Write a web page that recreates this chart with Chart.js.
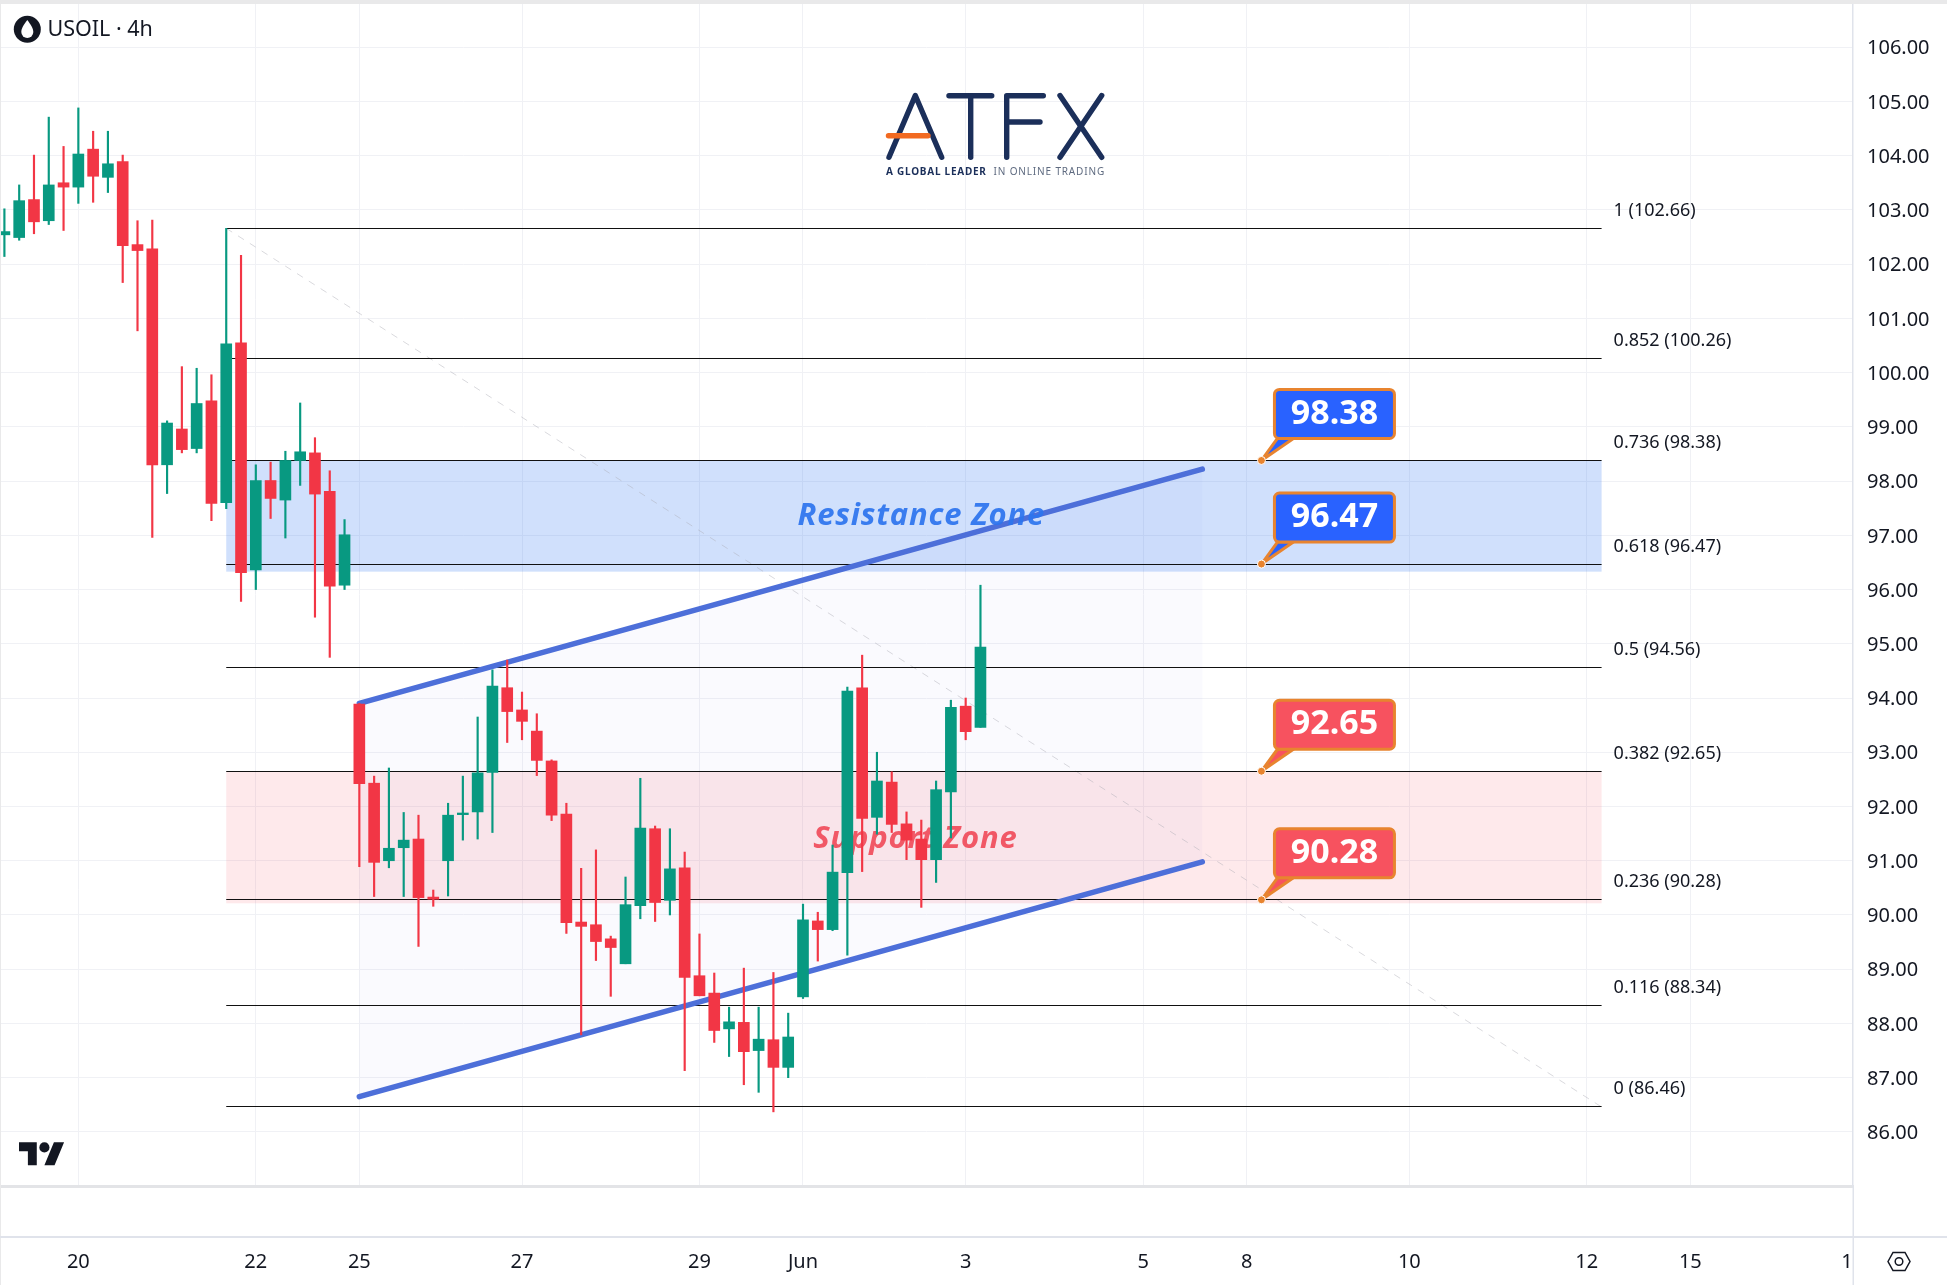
<!DOCTYPE html>
<html>
<head>
<meta charset="utf-8">
<title>USOIL 4h</title>
<style>
  html, body { margin: 0; padding: 0; background: #fff; }
  #wrap { width: 1947px; height: 1285px; }
</style>
<script src="https://cdn.jsdelivr.net/npm/chart.js@4"></script>
</head>
<body>
<div id="wrap"><canvas id="chart" width="1947" height="1285"></canvas></div>
<script>
// USOIL 4h candles, oldest first
const opens  = [102.54,102.49,103.19,102.80,103.50,103.42,104.12,103.60,103.89,102.36,102.28,98.30,98.96,98.60,99.48,97.60,100.55,96.36,98.01,97.65,98.38,98.52,97.81,96.08,
                93.89,92.43,91.00,91.24,91.40,90.33,91.00,91.85,91.90,92.63,94.19,93.78,93.39,92.84,91.86,89.87,89.82,89.56,89.10,90.17,91.59,90.27,90.87,88.88,88.56,87.90,88.02,87.50,87.70,87.19,
                88.49,89.89,89.73,90.78,94.19,91.80,92.45,91.68,91.40,91.02,92.27,93.85,93.46];
const highs  = [103.02,103.46,104.01,104.71,104.17,104.88,104.45,104.45,104.01,102.80,102.81,99.11,100.11,100.08,99.96,102.66,102.16,98.30,98.35,98.55,99.44,98.80,98.19,97.29,
                93.90,92.56,92.71,91.89,91.84,90.46,92.06,92.56,93.65,94.52,94.70,94.11,93.71,92.86,92.06,90.86,91.20,89.61,90.70,92.52,91.64,91.59,91.16,89.65,88.93,88.30,89.02,88.30,88.94,88.19,
                90.20,90.05,91.29,94.20,94.79,93.00,92.64,91.90,91.75,92.47,93.96,94.00,96.08];
const lows   = [102.14,102.44,102.56,102.73,102.62,103.12,103.14,103.32,101.66,100.77,96.96,97.77,98.52,98.52,97.27,97.49,95.78,96.00,97.31,96.95,97.92,95.49,94.75,96.00,
                90.89,90.34,90.87,90.34,89.42,90.16,90.35,91.38,91.40,91.52,93.18,93.23,92.57,91.74,89.66,87.79,89.16,88.50,89.10,89.93,89.88,90.00,87.13,88.51,87.65,87.39,86.87,86.73,86.37,87.00,
                88.46,89.15,89.71,89.26,90.80,91.49,91.52,91.02,90.14,90.60,91.42,93.23,93.46];
const closes = [102.60,103.17,102.78,103.46,103.42,104.03,103.62,103.85,102.34,102.25,98.30,99.07,98.58,99.43,97.59,100.53,96.31,98.01,97.68,98.38,98.54,97.76,96.06,97.01,
                92.42,90.97,91.23,91.38,90.32,90.29,91.84,91.88,92.62,94.22,93.75,93.57,92.85,91.84,89.86,89.79,89.51,89.40,90.19,91.60,90.23,90.85,88.85,88.51,87.87,88.03,87.48,87.71,87.19,87.75,
                89.91,89.73,90.79,94.13,91.78,92.47,91.67,91.38,91.02,92.31,93.83,93.38,94.94];

// Price and time axes
const yTicks = [86,87,88,89,90,91,92,93,94,95,96,97,98,99,100,101,102,103,104,105,106];
const xTicks  = [5,17,24,35,47,54,65,77,84,95,107,114,124.6];
const xLabels = ['20','22','25','27','29','Jun','3','5','8','10','12','15','1'];

// Fibonacci retracement levels and where they run on the time axis
const fibRatios = ['1','0.852','0.736','0.618','0.5','0.382','0.236','0.116','0'];
const fibPrices = [102.66,100.26,98.38,96.47,94.56,92.65,90.28,88.34,86.46];
const fibSpan = [15,108];

// Ascending channel: [bar index, price]
const channelUpper = [[24,93.90],[81,98.22]];
const channelLower = [[24,86.65],[81,90.98]];

// Shaded zones: [top price, bottom price]
const resistanceZone = [98.38,96.33];
const supportZone = [92.65,90.215];

// Price callouts
const blueCallouts = [98.38,96.47];
const redCallouts = [92.65,90.28];
const calloutBar = 85;

const UP = '#089981', DOWN = '#f23645', INK = '#131722', AXIS_LINE = '#e0e3eb', GRID = '#f0f1f5';
const UI_FONT = '"Noto Sans"';

const barColor = closes.map((c, i) => c >= opens[i] ? UP : DOWN);
const wickData = lows.map((l, i) => ({x: i, y: [l, highs[i]]}));
const bodyData = opens.map((o, i) => ({x: i, y: [o, closes[i]]}));

function fitLetterSpacedText(ctx, text, x, y, spacing) {
  ctx.letterSpacing = spacing + 'px';
  ctx.fillText(text, x, y);
  ctx.letterSpacing = '0px';
}

function roundedBox(ctx, x, y, w, h, r) {
  ctx.beginPath();
  ctx.roundRect(x, y, w, h, r);
}

function drawCallout(ctx, chart, price, fill, text) {
  const px = chart.scales.x.getPixelForValue(calloutBar);
  const py = chart.scales.y.getPixelForValue(price);
  const left = px + 13, top = py - 71, w = 120, h = 49;
  ctx.strokeStyle = '#e8842f';
  ctx.lineWidth = 3;
  ctx.fillStyle = fill;
  ctx.lineJoin = 'round';
  ctx.beginPath();
  ctx.moveTo(left + 3, top + h);
  ctx.lineTo(px, py);
  ctx.lineTo(left + 19, top + h);
  ctx.closePath();
  ctx.fill();
  ctx.stroke();
  roundedBox(ctx, left, top, w, h, 5);
  ctx.fill();
  ctx.stroke();
  ctx.fillStyle = '#fff';
  ctx.font = '700 34px ' + UI_FONT;
  ctx.textAlign = 'center';
  ctx.textBaseline = 'middle';
  ctx.fillText(text, left + w / 2, top + h / 2);
  ctx.beginPath();
  ctx.arc(px, py, 4, 0, Math.PI * 2);
  ctx.fillStyle = '#e8842f';
  ctx.fill();
  ctx.lineWidth = 1;
  ctx.strokeStyle = '#fff';
  ctx.stroke();
}

// Drawing tools that sit behind the candles
const drawingTools = {
  id: 'drawingTools',
  beforeDatasetsDraw(chart) {
    const {ctx, scales: {x, y}} = chart;
    const X = x.getPixelForValue.bind(x), Y = y.getPixelForValue.bind(y);
    ctx.save();

    // channel interior
    ctx.fillStyle = 'rgba(110,110,235,0.032)';
    ctx.beginPath();
    ctx.moveTo(X(channelUpper[0][0]), Y(channelUpper[0][1]));
    ctx.lineTo(X(channelUpper[1][0]), Y(channelUpper[1][1]));
    ctx.lineTo(X(channelLower[1][0]), Y(channelLower[1][1]));
    ctx.lineTo(X(channelLower[0][0]), Y(channelLower[0][1]));
    ctx.closePath();
    ctx.fill();

    // resistance and support bands
    const zoneLeft = X(fibSpan[0]), zoneRight = X(fibSpan[1]);
    ctx.fillStyle = 'rgba(33,110,240,0.21)';
    ctx.fillRect(zoneLeft, Y(resistanceZone[0]), zoneRight - zoneLeft, Y(resistanceZone[1]) - Y(resistanceZone[0]));
    ctx.fillStyle = 'rgba(242,54,69,0.11)';
    ctx.fillRect(zoneLeft, Y(supportZone[0]), zoneRight - zoneLeft, Y(supportZone[1]) - Y(supportZone[0]));

    // fib diagonal
    ctx.strokeStyle = 'rgba(170,170,180,0.45)';
    ctx.lineWidth = 1;
    ctx.setLineDash([7, 7]);
    ctx.beginPath();
    ctx.moveTo(X(fibSpan[0]), Y(fibPrices[0]));
    ctx.lineTo(X(fibSpan[1]), Y(fibPrices[fibPrices.length - 1]));
    ctx.stroke();
    ctx.setLineDash([]);

    // fib levels with their labels
    ctx.font = '18px ' + UI_FONT;
    ctx.textAlign = 'left';
    ctx.textBaseline = 'middle';
    fibPrices.forEach((p, i) => {
      const py = Math.floor(Y(p)) + 0.5;
      ctx.strokeStyle = '#111';
      ctx.lineWidth = 1.2;
      ctx.beginPath();
      ctx.moveTo(X(fibSpan[0]), py);
      ctx.lineTo(X(fibSpan[1]), py);
      ctx.stroke();
      ctx.fillStyle = INK;
      ctx.fillText(fibRatios[i] + ' (' + p.toFixed(2) + ')', X(fibSpan[1]) + 12, py - 18);
    });

    // channel edges
    ctx.strokeStyle = '#4d6fd9';
    ctx.lineWidth = 5.5;
    ctx.lineCap = 'round';
    [channelUpper, channelLower].forEach(line => {
      ctx.beginPath();
      ctx.moveTo(X(line[0][0]), Y(line[0][1]));
      ctx.lineTo(X(line[1][0]), Y(line[1][1]));
      ctx.stroke();
    });
    ctx.lineCap = 'butt';

    // zone captions
    ctx.textAlign = 'center';
    ctx.font = 'italic 700 31px "Open Sans"';
    ctx.fillStyle = 'rgba(44,116,238,0.92)';
    fitLetterSpacedText(ctx, 'Resistance Zone', X(62), Y(97.35), 0.8);
    ctx.fillStyle = 'rgba(240,80,95,0.95)';
    fitLetterSpacedText(ctx, 'Support Zone', X(61.6), Y(91.4), 0.8);

    blueCallouts.forEach(p => drawCallout(ctx, chart, p, '#2962ff', p.toFixed(2)));
    redCallouts.forEach(p => drawCallout(ctx, chart, p, '#f7525f', p.toFixed(2)));
    ctx.restore();
  }
};

function drawBrandMark(ctx) {
  ctx.save();
  ctx.lineCap = 'round';
  ctx.lineJoin = 'round';
  ctx.lineWidth = 5.4;
  ctx.strokeStyle = '#1b2f5a';
  const strokes = [
    [[889,157.3],[915.3,95.5],[941.7,157.3]],
    [[949,95.7],[991.7,95.7]], [[970.7,95.7],[970.7,157.3]],
    [[1006.7,157.3],[1006.7,95.7],[1043.3,95.7]], [[1006.7,122],[1040,122]],
    [[1060,95.5],[1101.7,157.3]], [[1101.7,95.5],[1060,157.3]]
  ];
  strokes.forEach(s => {
    ctx.beginPath();
    s.forEach((p, i) => i ? ctx.lineTo(p[0], p[1]) : ctx.moveTo(p[0], p[1]));
    ctx.stroke();
  });
  ctx.strokeStyle = '#f26a21';
  ctx.beginPath();
  ctx.moveTo(888.5, 135.7);
  ctx.lineTo(928, 135.7);
  ctx.stroke();
  ctx.textAlign = 'left';
  ctx.textBaseline = 'middle';
  ctx.font = '700 10px ' + UI_FONT;
  ctx.fillStyle = '#1b2f5a';
  fitLetterSpacedText(ctx, 'A GLOBAL LEADER', 886, 172.5, 0.75);
  ctx.font = '400 10px ' + UI_FONT;
  ctx.fillStyle = '#5f6b80';
  fitLetterSpacedText(ctx, 'IN ONLINE TRADING', 993.5, 172.5, 0.85);
  ctx.restore();
}

function drawChrome(chart) {
  const {ctx, chartArea: a, width, height} = chart;
  ctx.save();
  // frame around the panes
  ctx.fillStyle = '#e9e9ea';
  ctx.fillRect(0, 0, width, 4);
  ctx.fillRect(0, 0, 1, height);
  ctx.fillStyle = AXIS_LINE;
  ctx.fillRect(0, 1236, width, 2);
  ctx.fillRect(a.right - 0.5, 1186, 1.5, height - 1186);

  // symbol badge and title
  ctx.fillStyle = INK;
  ctx.beginPath();
  ctx.arc(27.3, 29.3, 13.5, 0, Math.PI * 2);
  ctx.fill();
  ctx.fillStyle = '#fff';
  ctx.beginPath();
  ctx.moveTo(27.3, 20);
  ctx.bezierCurveTo(31, 25, 33.3, 28.5, 33.3, 32);
  ctx.arc(27.3, 32, 6, 0, Math.PI);
  ctx.bezierCurveTo(21.3, 28.5, 23.6, 25, 27.3, 20);
  ctx.fill();
  ctx.fillStyle = INK;
  ctx.font = '400 21.5px ' + UI_FONT;
  ctx.textAlign = 'left';
  ctx.textBaseline = 'middle';
  ctx.fillText('USOIL · 4h', 47.5, 29.5);

  // TradingView mark
  ctx.save();
  ctx.translate(19, 1142.3 - 4 * 1.27);
  ctx.scale(1.27, 1.27);
  ctx.fill(new Path2D('M14 22H7V11H0V4h14v18zM28 22h-8l7.5-18h8L28 22z'));
  ctx.beginPath();
  ctx.arc(20, 8, 4, 0, Math.PI * 2);
  ctx.fill();
  ctx.restore();

  // settings hexagon
  ctx.strokeStyle = INK;
  ctx.lineWidth = 1.5;
  const gx = 1899, gy = 1261.5;
  ctx.beginPath();
  ctx.moveTo(gx - 11, gy);
  ctx.lineTo(gx - 6, gy - 9);
  ctx.lineTo(gx + 6, gy - 9);
  ctx.lineTo(gx + 11, gy);
  ctx.lineTo(gx + 6, gy + 9);
  ctx.lineTo(gx - 6, gy + 9);
  ctx.closePath();
  ctx.stroke();
  ctx.beginPath();
  ctx.arc(gx, gy, 3.8, 0, Math.PI * 2);
  ctx.stroke();
  ctx.restore();

  drawBrandMark(ctx);
}

new Chart(document.getElementById('chart'), {
  type: 'bar',
  data: {
    datasets: [
      {label: 'Wick', data: wickData, backgroundColor: barColor, barThickness: 1.5, grouped: false, order: 2},
      {label: 'Body', data: bodyData, backgroundColor: barColor, barThickness: 11, grouped: false, order: 1}
    ]
  },
  options: {
    responsive: false,
    animation: false,
    devicePixelRatio: 1,
    layout: {padding: {left: 1, top: 4, right: 0, bottom: 0}},
    plugins: {legend: {display: false}, tooltip: {enabled: false}},
    scales: {
      x: {
        type: 'linear',
        min: -0.23,
        max: 125,
        offset: false,
        afterBuildTicks(scale) { scale.ticks = xTicks.map(v => ({value: v})); },
        afterFit(scale) { scale.height = 99; scale.paddingLeft = 0; scale.paddingRight = 0; },
        grid: {
          offset: false,
          drawTicks: false,
          color: ctx => (ctx.tick && ctx.tick.value > 120) ? 'rgba(0,0,0,0)' : GRID
        },
        border: {color: '#e3e4e7', width: 3},
        ticks: {
          autoSkip: false,
          maxRotation: 0,
          padding: 64,
          color: INK,
          font: {family: 'Noto Sans', size: 20},
          callback: v => xLabels[xTicks.indexOf(v)]
        }
      },
      y: {
        position: 'right',
        min: 85.003,
        max: 106.796,
        afterBuildTicks(scale) { scale.ticks = yTicks.map(v => ({value: v})); },
        afterFit(scale) { scale.width = 94; scale.paddingTop = 0; scale.paddingBottom = 0; },
        grid: {drawTicks: false, color: GRID},
        border: {color: AXIS_LINE, width: 1.5},
        ticks: {
          padding: 14,
          labelOffset: 1.5,
          crossAlign: 'near',
          color: INK,
          font: {family: 'Noto Sans', size: 20},
          callback: v => v.toFixed(2)
        }
      }
    }
  },
  plugins: [drawingTools, {id: 'chrome', afterDraw: drawChrome}]
});
</script>
</body>
</html>
